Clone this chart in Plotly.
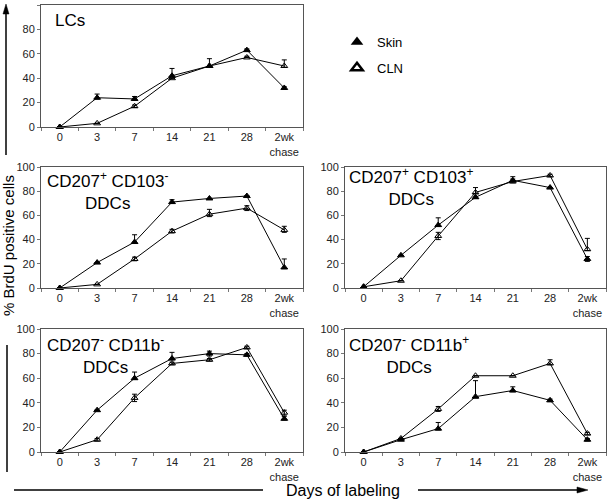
import plotly.graph_objects as go

W, H = 608, 503

days = ["0", "3", "7", "14", "21", "28", "2wk<br>chase"]
y_ticks = [0, 20, 40, 60, 80, 100]

# Panel 1: LCs
lc_skin = [0, 24, 23, 42, 50, 63, 32]
lc_skin_up = [0, 3, 2, 6, 6, 1, 1]
lc_skin_dn = [0, 1, 1, 1, 1, 0, 1]
lc_cln = [0, 3, 17, 40, 50, 57, 50]
lc_cln_up = [0, 0, 1, 0, 0, 1, 5]
lc_cln_dn = [0, 0, 1, 0, 0, 0, 1]

# Panel 2: CD207+ CD103- DDCs
p2_skin = [0, 21, 38, 71, 74, 76, 17]
p2_skin_up = [0, 0, 6, 2, 0, 0, 7]
p2_skin_dn = [0, 0, 1, 1, 0, 0, 1]
p2_cln = [0, 3, 24, 47, 61, 66, 48]
p2_cln_up = [0, 0, 1.5, 1.5, 4, 2, 3]
p2_cln_dn = [0, 0, 1.5, 1.5, 2, 2, 2]

# Panel 3: CD207+ CD103+ DDCs
p3_skin = [1, 27, 52, 75, 89, 83, 24]
p3_skin_up = [0, 0, 6, 0, 3, 0, 2]
p3_skin_dn = [0, 0, 1, 1, 1, 0, 2]
p3_cln = [1, 6, 43, 79, 88, 93, 32]
p3_cln_up = [0, 0, 3, 4, 2, 1, 9]
p3_cln_dn = [0, 0, 3, 1, 1, 1, 1]

# Panel 4: CD207- CD11b- DDCs
p4_skin = [0, 34, 60, 76, 80, 79, 27]
p4_skin_up = [0, 0, 5, 5, 2, 1, 2]
p4_skin_dn = [0, 0, 1, 1, 2, 1, 1]
p4_cln = [0, 10, 44, 72, 75, 85, 32]
p4_cln_up = [0, 1, 3, 1, 1, 1, 2]
p4_cln_dn = [0, 1, 3, 1, 1, 1, 2]

# Panel 5: CD207- CD11b+ DDCs
p5_skin = [0, 10, 19, 45, 50, 42, 10]
p5_skin_up = [0, 0, 5, 13, 3, 1, 1]
p5_skin_dn = [0, 0, 1, 1, 1, 1, 1]
p5_cln = [0, 11, 35, 62, 62, 72, 15]
p5_cln_up = [0, 0, 2, 0, 0, 3, 1]
p5_cln_dn = [0, 0, 2, 0, 0, 1, 1]

titles = [
    "LCs",
    "CD207<sup>+</sup> CD103<sup>-</sup><br>DDCs",
    "CD207<sup>+</sup> CD103<sup>+</sup><br>DDCs",
    "CD207<sup>-</sup> CD11b<sup>-</sup><br>DDCs",
    "CD207<sup>-</sup> CD11b<sup>+</sup><br>DDCs",
]


def px_x(v):
    return v / W


def px_y(v):
    return 1 - v / H


# panel boxes in pixels: (left, right, top, bottom)
boxes = [
    (41, 303, 5, 127),
    (41, 303, 167, 288),
    (345, 606, 167, 288),
    (41, 303, 329, 452),
    (345, 606, 329, 452),
]

panels = [
    (lc_skin, lc_skin_up, lc_skin_dn, lc_cln, lc_cln_up, lc_cln_dn),
    (p2_skin, p2_skin_up, p2_skin_dn, p2_cln, p2_cln_up, p2_cln_dn),
    (p3_skin, p3_skin_up, p3_skin_dn, p3_cln, p3_cln_up, p3_cln_dn),
    (p4_skin, p4_skin_up, p4_skin_dn, p4_cln, p4_cln_up, p4_cln_dn),
    (p5_skin, p5_skin_up, p5_skin_dn, p5_cln, p5_cln_up, p5_cln_dn),
]

fig = go.Figure()
FONT = "Liberation Sans"
layout_axes = {}

for i, (box, data) in enumerate(zip(boxes, panels)):
    n = "" if i == 0 else str(i + 1)
    xa, ya = "x" + n, "y" + n
    skin, s_up, s_dn, cln, c_up, c_dn = data
    for vals, up, dn, sym in [
        (cln, c_up, c_dn, "triangle-up-open"),
        (skin, s_up, s_dn, "triangle-up"),
    ]:
        fig.add_trace(go.Scatter(
            x=days, y=vals, xaxis=xa, yaxis=ya, mode="lines+markers",
            line=dict(color="black", width=1),
            marker=dict(symbol=sym, size=6, color="black",
                        line=dict(color="black", width=1)),
            error_y=dict(type="data", symmetric=False, array=up,
                         arrayminus=dn, width=2.5, thickness=1,
                         color="black"),
            showlegend=False, cliponaxis=False,
        ))
    l, r, t, b = box
    layout_axes["xaxis" + n] = dict(
        domain=[px_x(l), px_x(r)], anchor=ya, type="category",
        categoryorder="array", categoryarray=days,
        range=[-0.5, 6.5], showline=True, mirror=True,
        linecolor="#555", linewidth=1, showgrid=False, zeroline=False,
        ticks="outside", tickson="boundaries", ticklen=3, tickcolor="#777",
        tickangle=0, automargin=False,
        tickfont=dict(family=FONT, size=11, color="#222"),
    )
    layout_axes["yaxis" + n] = dict(
        domain=[px_y(b), px_y(t)], anchor=xa, range=[0, 100],
        tickvals=y_ticks, showline=True, mirror=True,
        linecolor="#555", linewidth=1, showgrid=False, zeroline=False,
        ticks="outside", ticklen=3, tickcolor="#777", automargin=False,
        tickfont=dict(family=FONT, size=11, color="#222"),
    )

# legend entries
fig.add_trace(go.Scatter(x=[None], y=[None], mode="markers", name="Skin",
                         marker=dict(symbol="triangle-up", size=11, color="black"),
                         legendgroup="a"))
fig.add_trace(go.Scatter(x=[None], y=[None], mode="markers", name="CLN",
                         marker=dict(symbol="triangle-up-open", size=10, color="black",
                                     line=dict(width=2.5, color="black")),
                         legendgroup="b"))

annotations = []
title_pos = [
    (53, 21, "middle"),
    (45, 167, "top"),
    (347, 163, "top"),
    (45, 331, "top"),
    (347, 331, "top"),
]
for txt, (xp, yp, ya) in zip(titles, title_pos):
    annotations.append(dict(
        text=txt, xref="paper", yref="paper", x=px_x(xp), y=px_y(yp),
        xanchor="left", yanchor=ya, align="center", showarrow=False,
        font=dict(family=FONT, size=17, color="black"),
    ))

annotations.append(dict(
    text="% BrdU positive cells", xref="paper", yref="paper",
    x=px_x(8), y=px_y(246), textangle=-90, showarrow=False,
    xanchor="center", yanchor="middle",
    font=dict(family=FONT, size=15, color="black"),
))
annotations.append(dict(
    text="Days of labeling", xref="paper", yref="paper",
    x=px_x(343), y=px_y(490), showarrow=False,
    xanchor="center", yanchor="middle",
    font=dict(family=FONT, size=16, color="black"),
))


def tri(points):
    pts = [f"{px_x(a):.5f},{px_y(b):.5f}" for a, b in points]
    return "M " + " L ".join(pts) + " Z"


shapes = [
    # vertical arrow (top)
    dict(type="line", xref="paper", yref="paper",
         x0=px_x(6), x1=px_x(6), y0=px_y(12), y1=px_y(155),
         line=dict(color="black", width=1.5)),
    dict(type="path", xref="paper", yref="paper",
         path=tri([(6, 4), (3, 14), (9, 14)]),
         fillcolor="black", line=dict(color="black", width=0.5)),
    # vertical line (bottom)
    dict(type="line", xref="paper", yref="paper",
         x0=px_x(7), x1=px_x(7), y0=px_y(345), y1=px_y(472),
         line=dict(color="black", width=1.5)),
    # horizontal line (left)
    dict(type="line", xref="paper", yref="paper",
         x0=px_x(14), x1=px_x(263), y0=px_y(490), y1=px_y(490),
         line=dict(color="black", width=1.5)),
    # horizontal arrow (right)
    dict(type="line", xref="paper", yref="paper",
         x0=px_x(418), x1=px_x(580), y0=px_y(490), y1=px_y(490),
         line=dict(color="black", width=1.5)),
    dict(type="path", xref="paper", yref="paper",
         path=tri([(588, 490), (577, 487), (577, 493)]),
         fillcolor="black", line=dict(color="black", width=0.5)),
]

fig.update_layout(
    width=W, height=H, margin=dict(l=0, r=0, t=0, b=0, autoexpand=False),
    paper_bgcolor="white", plot_bgcolor="white",
    annotations=annotations, shapes=shapes,
    showlegend=True,
    legend=dict(x=px_x(337), y=px_y(27), xanchor="left", yanchor="top",
                font=dict(family=FONT, size=13, color="black"),
                tracegroupgap=6, bgcolor="rgba(0,0,0,0)"),
    **layout_axes,
)

fig.write_html(
    "out.html",
    config={"displayModeBar": False},
    post_script="document.body.style.margin='0';document.body.style.overflow='hidden';",
)
